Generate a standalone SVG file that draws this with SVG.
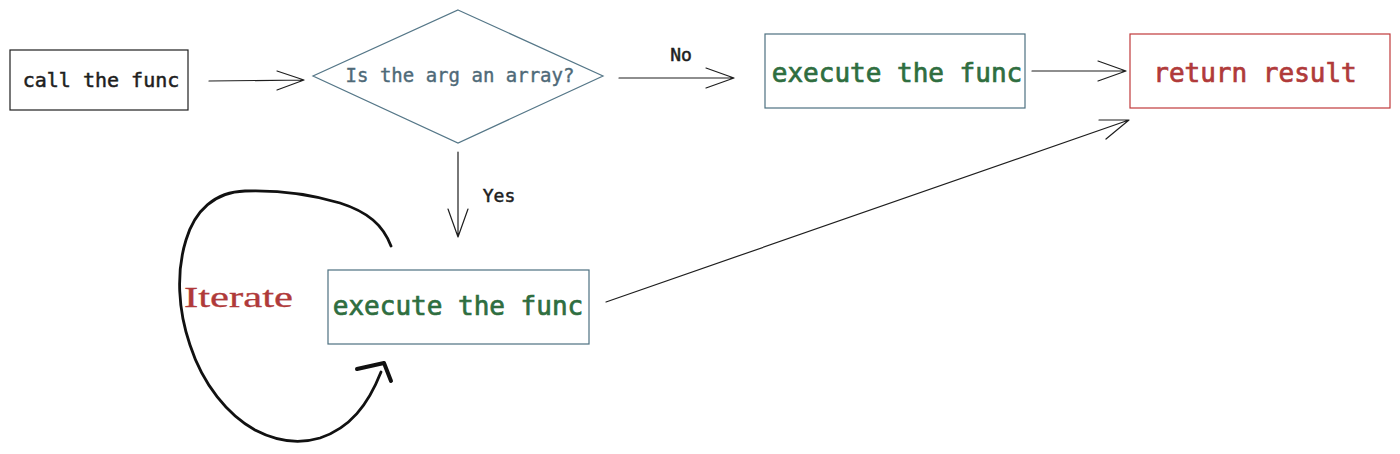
<svg xmlns="http://www.w3.org/2000/svg" width="1400" height="454" viewBox="0 0 1400 454">
<style>
.mono{font-family:"DejaVu Sans Mono","Liberation Mono",monospace;}
.conn{fill:none;stroke:#1e1e1e;stroke-width:1.2;stroke-linecap:round;stroke-linejoin:round;}
</style>
<rect width="1400" height="454" fill="#ffffff"/>
<g id="node-call">
<rect x="10" y="50" width="178" height="60" fill="none" stroke="#1e1e1e" stroke-width="1.2"/>
<text x="101" y="87" class="mono" font-size="20" fill="#1e1e1e" stroke="#1e1e1e" stroke-width="0.5" text-anchor="middle">call the func</text>
</g>
<g id="node-decision">
<polygon points="458,10 603,76 458,143 313,76" fill="none" stroke="#557788" stroke-width="1.2"/>
<text x="460" y="82" class="mono" font-size="19" fill="#4f6a78" stroke="#4f6a78" stroke-width="0.4" text-anchor="middle">Is the arg an array?</text>
</g>
<g id="node-exec-top">
<rect x="765" y="34" width="260" height="74" fill="none" stroke="#4d7080" stroke-width="1.2"/>
<text x="897" y="82" class="mono" font-size="26" fill="#2f6e3f" stroke="#2f6e3f" stroke-width="0.7" text-anchor="middle">execute the func</text>
</g>
<g id="node-return">
<rect x="1130" y="34" width="260" height="74" fill="none" stroke="#c0393b" stroke-width="1.2"/>
<text x="1255" y="82" class="mono" font-size="26" fill="#b03a3a" stroke="#b03a3a" stroke-width="0.7" text-anchor="middle">return result</text>
</g>
<g id="node-exec-bottom">
<rect x="328" y="270" width="261" height="74" fill="none" stroke="#4d7080" stroke-width="1.2"/>
<text x="458" y="315" class="mono" font-size="26" fill="#2f6e3f" stroke="#2f6e3f" stroke-width="0.7" text-anchor="middle">execute the func</text>
</g>
<g id="connectors">
<path class="conn" d="M209,81 L304,80 M277,71 L304,80 L277,90"/>
<path class="conn" d="M619,78 L734,78 M706,68 L734,78 L706,88"/>
<text x="681" y="61" class="mono" font-size="18" fill="#1e1e1e" stroke="#1e1e1e" stroke-width="0.5" text-anchor="middle">No</text>
<path class="conn" d="M1032,71 L1126,71 M1098,61 L1126,71 L1098,81"/>
<path class="conn" d="M458,152 L458,237 M448,209 L458,237 L468,209"/>
<text x="499" y="202" class="mono" font-size="18" fill="#1e1e1e" stroke="#1e1e1e" stroke-width="0.5" text-anchor="middle">Yes</text>
<path class="conn" d="M606,302 L1129,120 M1099,120 L1129,120 L1106,139"/>
<path d="M391,246 C383,225 368,212 340,203 C310,194 275,190 245,191 C215,192 195,210 186,240 C176,272 178,310 190,345 C203,385 228,415 255,430 C278,442 300,444 320,438 C350,428 368,405 381,372" fill="none" stroke="#111111" stroke-width="2.8" stroke-linecap="round"/>
<path d="M357,369 L384,363 L391,381" fill="none" stroke="#111111" stroke-width="4" stroke-linecap="round" stroke-linejoin="round"/>
<text x="184" y="307" font-family="'Liberation Serif',serif" font-size="29" fill="#b03a3a" stroke="#b03a3a" stroke-width="0.3" textLength="109" lengthAdjust="spacingAndGlyphs">Iterate</text>
</g>
</svg>
